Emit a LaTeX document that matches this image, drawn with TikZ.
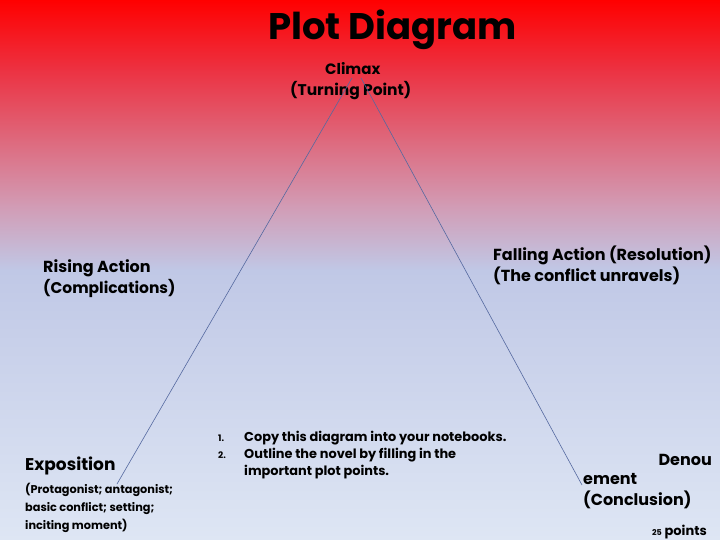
\documentclass[tikz,border=0pt]{standalone}
\usepackage{fontspec}
\setmainfont{Poppins}
\begin{document}
\begin{tikzpicture}[x=1pt,y=-1pt,
  lbl/.style={anchor=base west,inner sep=0pt,font=\bfseries},
  plotline/.style={draw=plotblue,line width=0.6pt}]
\definecolor{c0}{RGB}{255,0,0}
\definecolor{c1}{RGB}{236,50,66}
\definecolor{c2}{RGB}{222,105,125}
\definecolor{c3}{RGB}{210,155,180}
\definecolor{c4}{RGB}{192,200,230}
\definecolor{c5}{RGB}{222,230,244}
\definecolor{plotblue}{RGB}{85,105,160}
\useasboundingbox (0,0) rectangle (720,540);
\shade[top color=c0,bottom color=c1] (0,0) rectangle (720,70.5);
\shade[top color=c1,bottom color=c2] (0,70) rectangle (720,140.5);
\shade[top color=c2,bottom color=c3] (0,140) rectangle (720,205.5);
\shade[top color=c3,bottom color=c4] (0,205) rectangle (720,270.5);
\shade[top color=c4,bottom color=c5] (0,270) rectangle (720,540);
% title
\node[lbl,font=\fontsize{37}{40}\selectfont\bfseries] (title) at (268,40) {Plot Diagram};
% labels
\node[lbl,font=\fontsize{15}{18}\selectfont\bfseries] (climax) at (325,75) {Climax};
\node[lbl,font=\fontsize{15.5}{18}\selectfont\bfseries] (turning) at (290,96) {(Turning Point)};
\node[lbl,font=\fontsize{16}{18}\selectfont\bfseries] (rising) at (43,272) {Rising Action};
\node[lbl,font=\fontsize{15.5}{18}\selectfont\bfseries] (compl) at (43,293) {(Complications)};
\node[lbl,font=\fontsize{16}{18}\selectfont\bfseries] (falling) at (493,260) {Falling Action (Resolution)};
\node[lbl,font=\fontsize{16}{18}\selectfont\bfseries] (unrav) at (493,281) {(The conflict unravels)};
\node[lbl,font=\fontsize{17}{18}\selectfont\bfseries] (expo) at (25,470) {Exposition};
\node[lbl,font=\fontsize{11.3}{14}\selectfont\bfseries] (expo1) at (25,493) {(Protagonist; antagonist;};
\node[lbl,font=\fontsize{11.3}{14}\selectfont\bfseries] (expo2) at (25,511) {basic conflict; setting;};
\node[lbl,font=\fontsize{11.3}{14}\selectfont\bfseries] (expo3) at (25,529) {inciting moment)};
\node[lbl,font=\fontsize{9}{10}\selectfont\bfseries] (n1) at (218,441) {1.};
\node[lbl,font=\fontsize{9}{10}\selectfont\bfseries] (n2) at (218,458) {2.};
\node[lbl,font=\fontsize{12.9}{14}\selectfont\bfseries] (item1) at (244,441) {Copy this diagram into your notebooks.};
\node[lbl,font=\fontsize{12.9}{14}\selectfont\bfseries] (item2) at (244,458) {Outline the novel by filling in the};
\node[lbl,font=\fontsize{12.9}{14}\selectfont\bfseries] (item3) at (244,475) {important plot points.};
\node[anchor=base east,inner sep=0pt,font=\fontsize{16}{18}\selectfont\bfseries] (denou) at (712,465) {Denou};
\node[lbl,font=\fontsize{16}{18}\selectfont\bfseries] (ement) at (583,484) {ement};
\node[lbl,font=\fontsize{16}{18}\selectfont\bfseries] (concl) at (583,505) {(Conclusion)};
\node[anchor=base east,inner sep=0pt,font=\fontsize{13}{14}\selectfont\bfseries] (points) at (707,535) {{\fontsize{8}{9}\selectfont 25} points};
% plot lines
\coordinate (apexL) at (352,78);
\coordinate (apexR) at (361,78);
\coordinate (expoEnd) at (117,484);
\coordinate (denoEnd) at (582,485);
\draw[plotline] (expoEnd) -- (apexL);
\draw[plotline] (apexR) -- (denoEnd);
\end{tikzpicture}
\end{document}
